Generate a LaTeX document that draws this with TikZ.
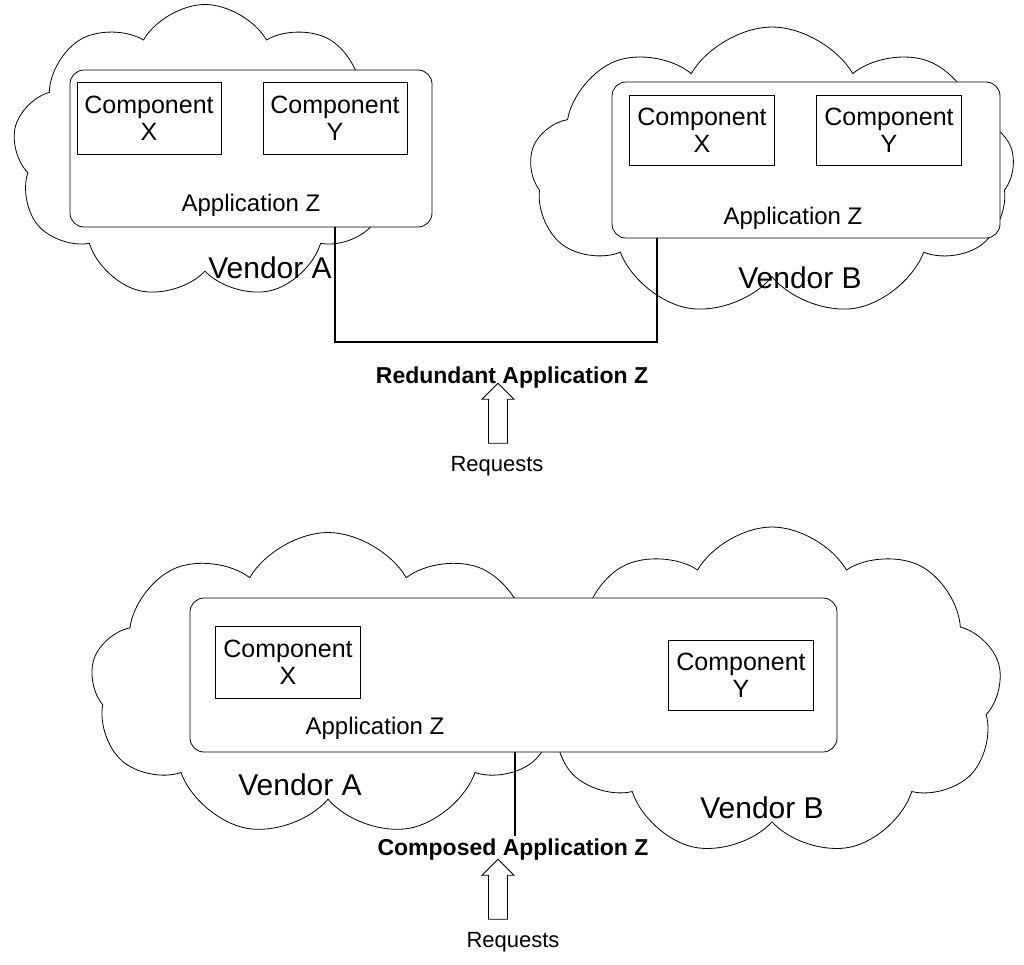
\documentclass[tikz,border=0pt]{standalone}
\usepackage{fontspec}
\setmainfont{Liberation Sans}
\usetikzlibrary{shapes.symbols,shapes.arrows}
\begin{document}
\begin{tikzpicture}[x=1pt,y=-1pt,
  cl/.style={cloud,cloud puffs=9,cloud puff arc=120,draw,fill=white,inner sep=0pt,line width=0.8pt},
  app/.style={draw,rounded corners=14pt,line width=0.8pt,fill=white},
  comp/.style={draw,line width=0.8pt,fill=white,align=center,font=\fontsize{25}{29}\selectfont},
  lab/.style={font=\fontsize{24}{28}\selectfont},
  ven/.style={font=\fontsize{30}{34}\selectfont},
  bold/.style={font=\bfseries\fontsize{23}{26}\selectfont},
  up/.style={single arrow,draw,line width=0.8pt,shape border rotate=90,minimum height=60pt,minimum width=32pt,single arrow head extend=3pt,inner sep=4pt}]
\useasboundingbox (0,0) rectangle (1024,964);
% top
\node[cl,minimum width=385pt,minimum height=295pt] (ca) at (205,152) {};
\node[cl,minimum width=485pt,minimum height=290pt] (cb) at (772,172) {};
\draw[app] (70,70) rectangle (432,227);
\node[comp,minimum width=144pt,minimum height=72pt] (xa) at (149,118) {Component\\[-2pt]X};
\node[comp,minimum width=144pt,minimum height=72pt] (ya) at (335,118) {Component\\[-2pt]Y};
\node[lab] (aza) at (251,205) {Application Z};
\node[ven] (va) at (270,268) {Vendor A};
\draw[app] (612,82) rectangle (1000,238);
\node[comp,minimum width=145pt,minimum height=70pt] (xb) at (702,130) {Component\\[-2pt]X};
\node[comp,minimum width=145pt,minimum height=70pt] (yb) at (889,130) {Component\\[-2pt]Y};
\node[lab] (azb) at (793,218) {Application Z};
\node[ven] (vb) at (800,278) {Vendor B};
\coordinate (ta) at (335,227);
\coordinate (tb) at (657,238);
\draw[line width=1.2pt] (ta) |- (495,342) -| (tb);
\node[bold] (red) at (512,378) {Redundant Application Z};
\node[up] (ar1) at (498,418) {};
\node[lab,font=\fontsize{22}{26}\selectfont] (rq1) at (497,466) {Requests};
% bottom
\node[cl,minimum width=460pt,minimum height=330pt] (cd) at (772,692) {};
\node[cl,minimum width=475pt,minimum height=305pt] (cc) at (328,685) {};
\draw[app] (190,598) rectangle (837,752);
\node[comp,minimum width=145pt,minimum height=72pt] (xc) at (288,662) {Component\\[-2pt]X};
\node[comp,minimum width=145pt,minimum height=70pt] (yc) at (741,675) {Component\\[-2pt]Y};
\node[lab] (azc) at (375,728) {Application Z};
\node[ven] (vc) at (300,785) {Vendor A};
\node[ven] (vd) at (762,808) {Vendor B};
\coordinate (tc) at (515,752);
\node[bold] (comp) at (513,850) {Composed Application Z};
\draw[line width=1.2pt] (tc) -- (comp.north -| tc);
\node[up] (ar2) at (498,894) {};
\node[lab,font=\fontsize{22}{26}\selectfont] (rq2) at (513,942) {Requests};
\end{tikzpicture}
\end{document}
